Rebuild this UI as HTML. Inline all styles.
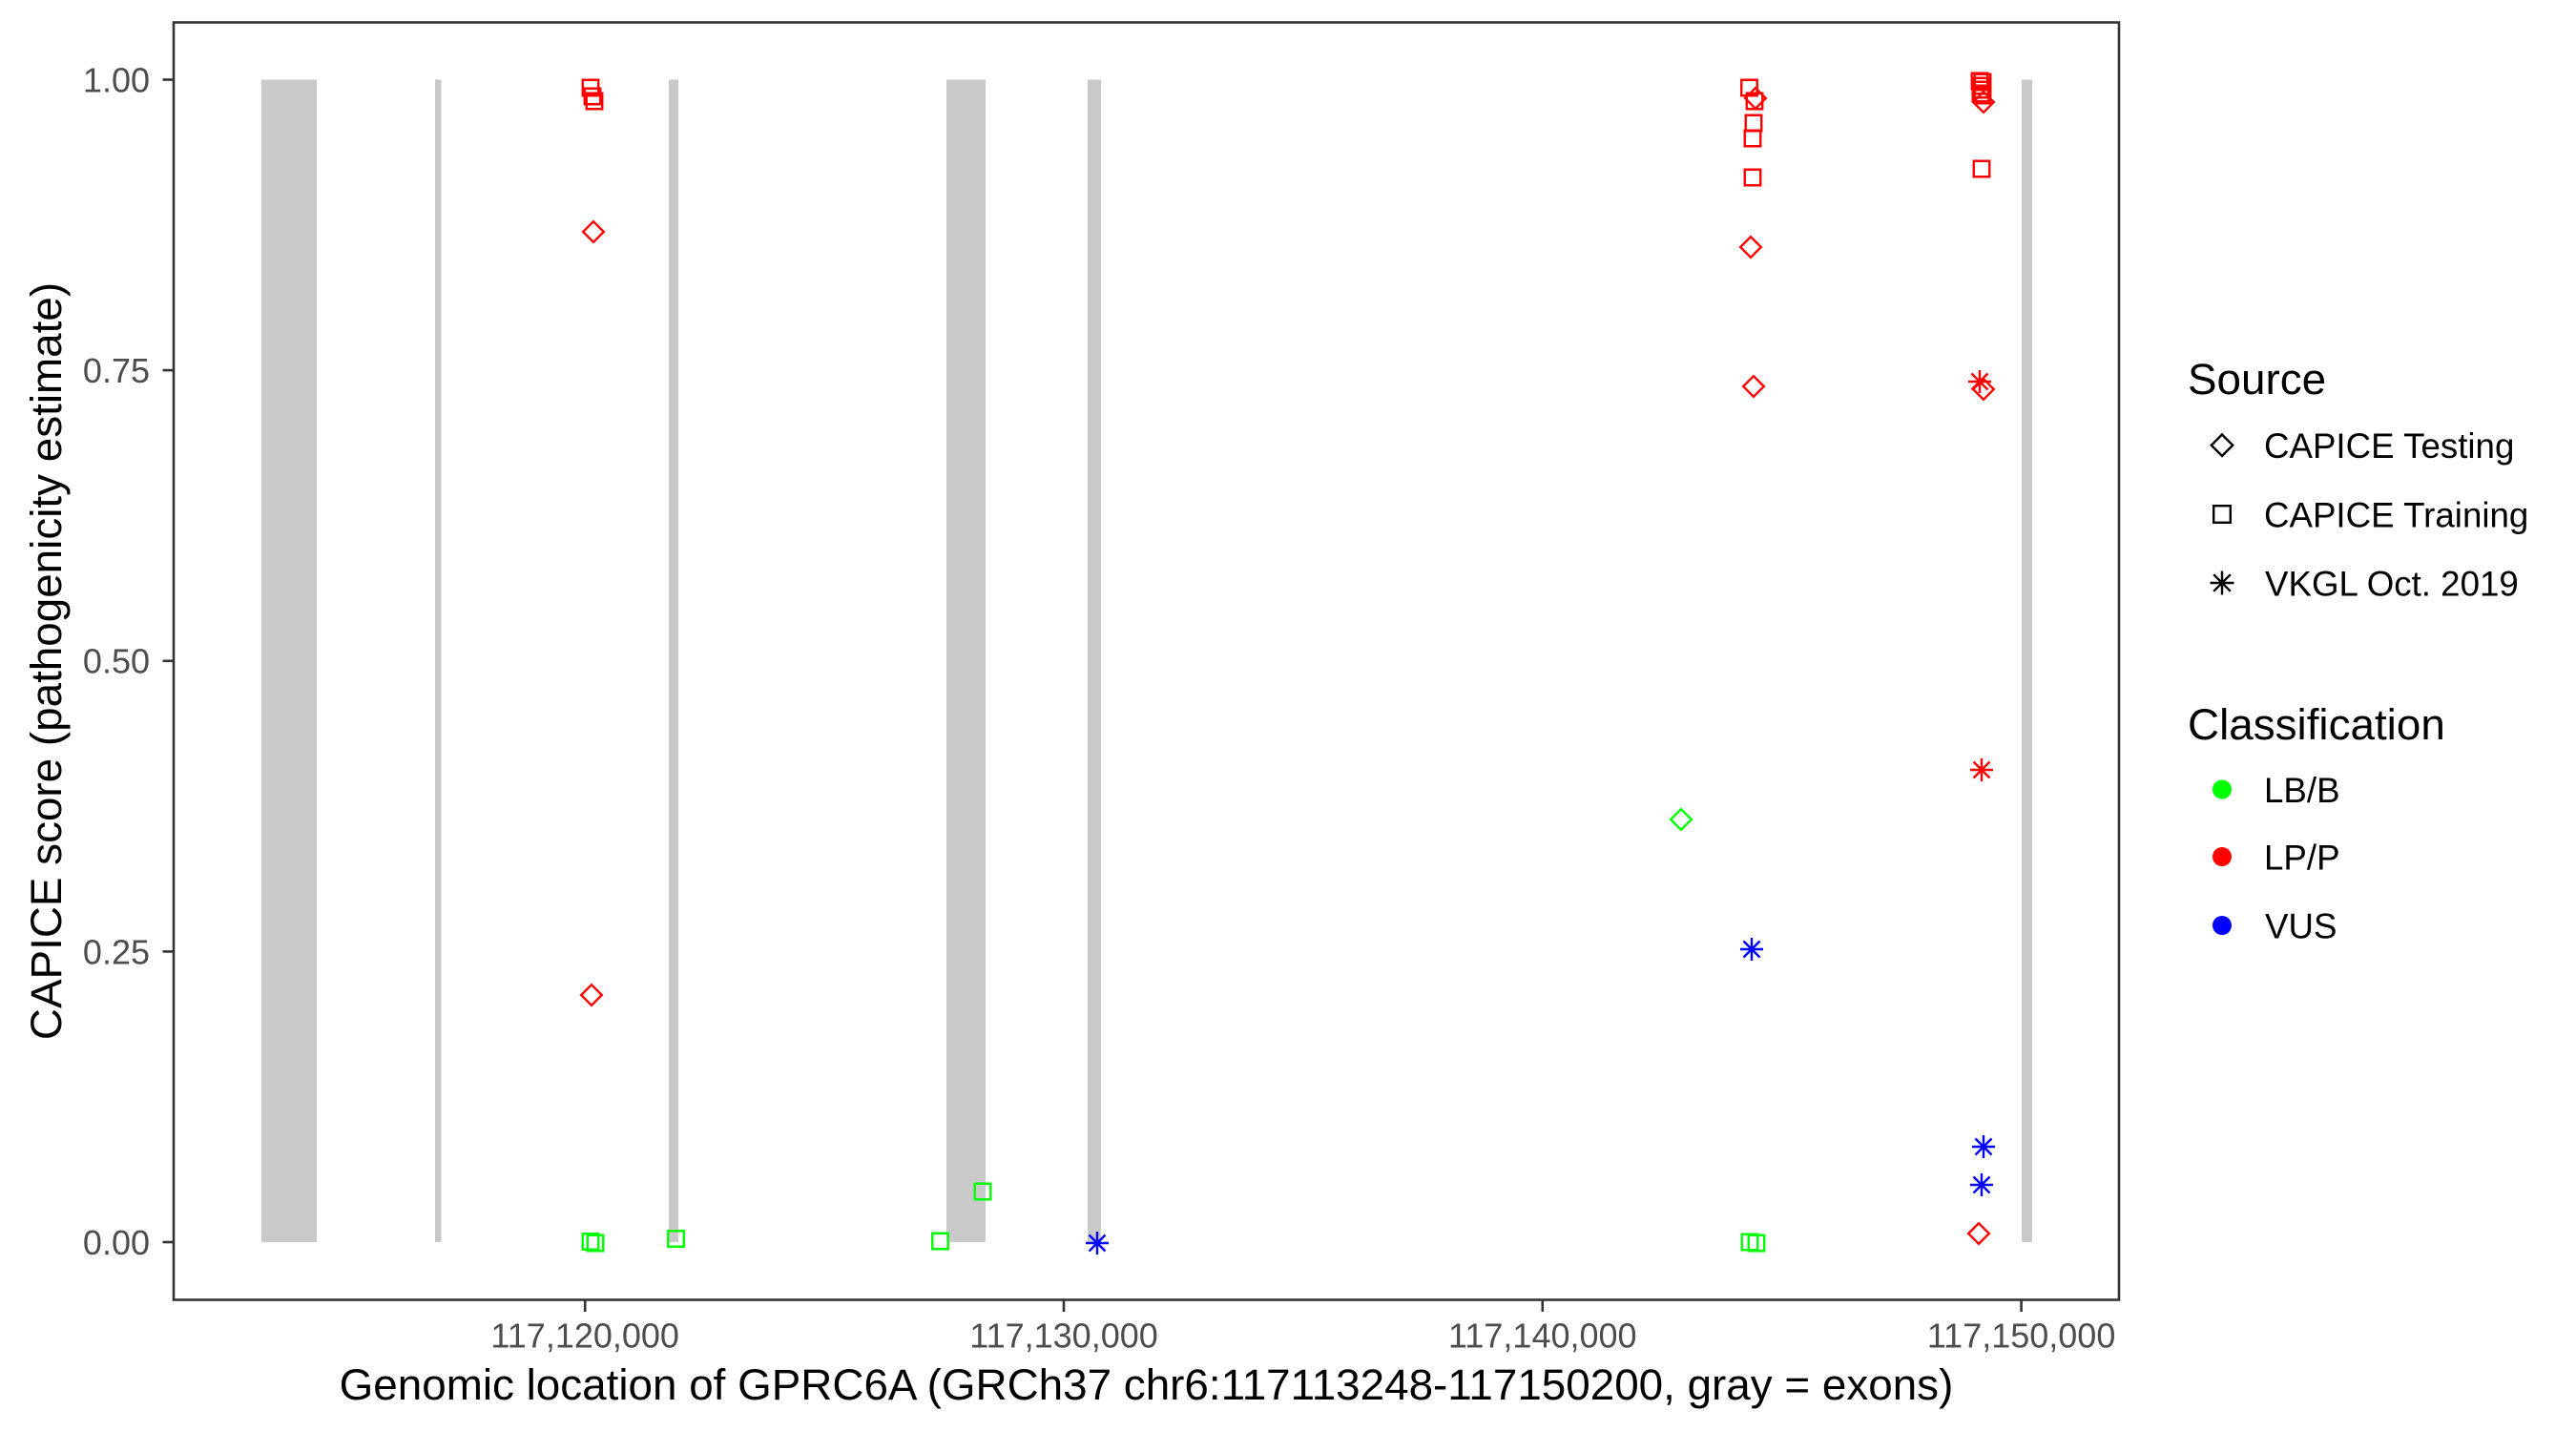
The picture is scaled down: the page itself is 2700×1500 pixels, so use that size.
<!DOCTYPE html>
<html>
<head>
<meta charset="utf-8">
<style>
  html, body { margin: 0; padding: 0; background: #ffffff; }
  svg { display: block; }
  text { font-family: "Liberation Sans", Arial, Helvetica, sans-serif; }
</style>
</head>
<body>
<svg width="2700" height="1500" viewBox="0 0 2700 1500" xmlns="http://www.w3.org/2000/svg">
  <defs>
    <path id="sq" d="M-8.25,-8.25h16.5v16.5h-16.5z" fill="none"/>
    <path id="di" d="M0,-10.8L10.8,0L0,10.8L-10.8,0z" fill="none"/>
    <path id="as" d="M-12,0H12M0,-12V12M-8.5,-8.5L8.5,8.5M-8.5,8.5L8.5,-8.5" fill="none"/>
  </defs>
  <rect x="0" y="0" width="2700" height="1500" fill="#ffffff"/>

  <!-- exons -->
  <g fill="#c9c9c9">
    <rect x="274" y="83.5" width="58" height="1218.5"/>
    <rect x="456" y="83.5" width="6.5" height="1218.5"/>
    <rect x="701" y="83.5" width="10" height="1218.5"/>
    <rect x="992" y="83.5" width="41" height="1218.5"/>
    <rect x="1140" y="83.5" width="14" height="1218.5"/>
    <rect x="2119" y="83.5" width="11" height="1218.5"/>
  </g>

  <!-- points -->
  <g stroke-width="2.4" fill="none">
    <!-- red (LP/P) -->
    <g stroke="#ff0000">
      <use href="#sq" x="619" y="92"/>
      <use href="#sq" x="621" y="101"/>
      <use href="#sq" x="623" y="106"/>
      <use href="#di" x="622" y="243"/>
      <use href="#di" x="620" y="1043"/>

      <use href="#sq" x="1833.5" y="92"/>
      <use href="#di" x="1840" y="103"/>
      <use href="#sq" x="1839" y="106"/>
      <use href="#sq" x="1838" y="129"/>
      <use href="#sq" x="1837" y="145"/>
      <use href="#sq" x="1837" y="186"/>
      <use href="#di" x="1835" y="259"/>
      <use href="#di" x="1838" y="405"/>

      <use href="#sq" x="2075" y="85"/>
      <use href="#sq" x="2078" y="86"/>
      <use href="#sq" x="2076" y="90"/>
      <use href="#sq" x="2077" y="94"/>
      <use href="#sq" x="2076" y="98"/>
      <use href="#sq" x="2078" y="100"/>
      <use href="#di" x="2079" y="107"/>
      <use href="#sq" x="2077" y="177"/>
      <use href="#as" x="2075" y="400"/>
      <use href="#di" x="2079" y="408"/>
      <use href="#as" x="2077" y="807"/>
      <use href="#di" x="2074" y="1293"/>
    </g>
    <!-- green (LB/B) -->
    <g stroke="#00ff00">
      <use href="#sq" x="619" y="1301.5"/>
      <use href="#sq" x="624" y="1303"/>
      <use href="#sq" x="708.5" y="1298.5"/>
      <use href="#sq" x="985.5" y="1301"/>
      <use href="#sq" x="1030" y="1249"/>
      <use href="#di" x="1762" y="859"/>
      <use href="#sq" x="1834" y="1302"/>
      <use href="#sq" x="1841" y="1303"/>
    </g>
    <!-- blue (VUS) -->
    <g stroke="#0000ff">
      <use href="#as" x="1150" y="1303"/>
      <use href="#as" x="1836" y="995"/>
      <use href="#as" x="2079" y="1202"/>
      <use href="#as" x="2077" y="1242"/>
    </g>
  </g>

  <!-- panel border -->
  <rect x="182" y="23.5" width="2039" height="1339" fill="none" stroke="#333333" stroke-width="2.6"/>

  <!-- ticks -->
  <g stroke="#333333" stroke-width="2.6">
    <line x1="170.5" y1="83.5" x2="182" y2="83.5"/>
    <line x1="170.5" y1="388.1" x2="182" y2="388.1"/>
    <line x1="170.5" y1="692.8" x2="182" y2="692.8"/>
    <line x1="170.5" y1="997.4" x2="182" y2="997.4"/>
    <line x1="170.5" y1="1302" x2="182" y2="1302"/>
    <line x1="613.2" y1="1363" x2="613.2" y2="1375"/>
    <line x1="1115" y1="1363" x2="1115" y2="1375"/>
    <line x1="1616.8" y1="1363" x2="1616.8" y2="1375"/>
    <line x1="2118.6" y1="1363" x2="2118.6" y2="1375"/>
  </g>

  <!-- tick labels -->
  <g fill="#4d4d4d" font-size="36">
    <text x="157" y="96.4" text-anchor="end">1.00</text>
    <text x="157" y="401" text-anchor="end">0.75</text>
    <text x="157" y="705.7" text-anchor="end">0.50</text>
    <text x="157" y="1010.3" text-anchor="end">0.25</text>
    <text x="157" y="1314.9" text-anchor="end">0.00</text>
    <text x="613.2" y="1412.5" text-anchor="middle">117,120,000</text>
    <text x="1115" y="1412.5" text-anchor="middle">117,130,000</text>
    <text x="1616.8" y="1412.5" text-anchor="middle">117,140,000</text>
    <text x="2118.6" y="1412.5" text-anchor="middle">117,150,000</text>
  </g>

  <!-- axis titles -->
  <text x="1201.5" y="1467" text-anchor="middle" font-size="45.8" fill="#000000">Genomic location of GPRC6A (GRCh37 chr6:117113248-117150200, gray = exons)</text>
  <text transform="translate(64,693) rotate(-90)" text-anchor="middle" font-size="45.8" fill="#000000">CAPICE score (pathogenicity estimate)</text>

  <!-- legend: Source -->
  <text x="2293" y="413" font-size="45.8" fill="#000000">Source</text>
  <g stroke="#000000" stroke-width="2.4" fill="none">
    <path d="M2329,455.5L2340.2,466.7L2329,477.9L2317.8,466.7z"/>
    <rect x="2320.2" y="530.2" width="17.6" height="17.6"/>
    <path d="M2316.5,611H2341.5M2329,598.5V623.5M2320.2,602.2L2337.8,619.8M2320.2,619.8L2337.8,602.2"/>
  </g>
  <g font-size="36.7" fill="#000000">
    <text x="2373" y="480">CAPICE Testing</text>
    <text x="2373" y="552.5">CAPICE Training</text>
    <text x="2374" y="624.5">VKGL Oct. 2019</text>
  </g>

  <!-- legend: Classification -->
  <text x="2293" y="775" font-size="45.8" fill="#000000">Classification</text>
  <circle cx="2329" cy="827.5" r="10" fill="#00ff00"/>
  <circle cx="2329" cy="898" r="10" fill="#ff0000"/>
  <circle cx="2329" cy="970" r="10" fill="#0000ff"/>
  <g font-size="36.7" fill="#000000">
    <text x="2373" y="841">LB/B</text>
    <text x="2373" y="911.5">LP/P</text>
    <text x="2374" y="983.5">VUS</text>
  </g>
</svg>
</body>
</html>
